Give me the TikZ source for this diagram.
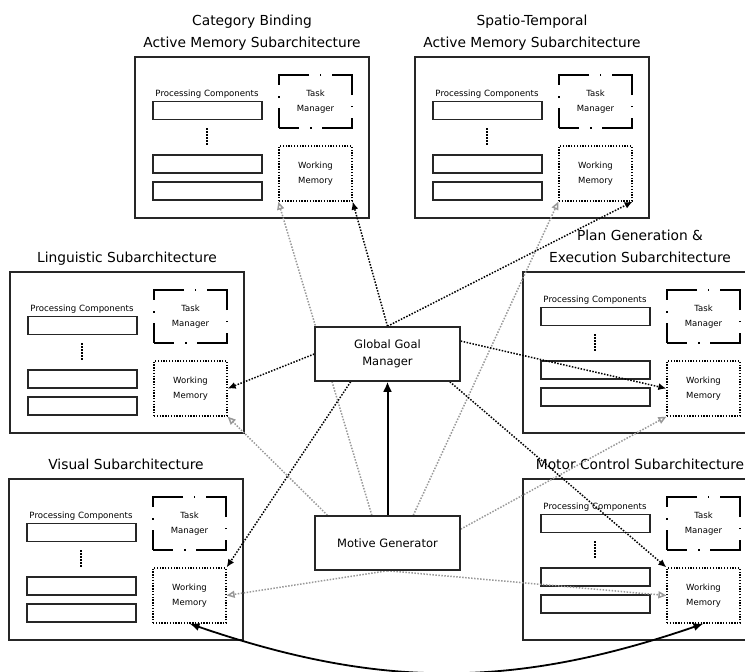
\documentclass[tikz,border=0pt]{standalone}
\usepackage{fontspec}
\setmainfont{DejaVu Sans}
\usetikzlibrary{arrows.meta,calc}
\pgfdeclarelayer{fg}
\pgfsetlayers{main,fg}

\tikzset{
  outer/.style={draw=black!85, line width=1.5pt, rectangle, inner sep=0pt,
    minimum width=234pt, minimum height=161pt},
  titletext/.style={anchor=south, inner sep=0pt, align=center,
    font=\fontsize{13.8}{22}\selectfont},
  pclabel/.style={anchor=base, inner sep=0pt, font=\fontsize{8.6}{10}\selectfont},
  pcbox/.style={draw=black!85, line width=1.5pt, minimum width=109pt,
    minimum height=18pt, inner sep=0pt},
  tmbox/.style={draw=black, line width=1.5pt,
    dash pattern=on 40pt off 11pt on 1.5pt off 10.5pt, dash phase=20pt,
    minimum width=73pt, minimum height=53pt, inner sep=0pt, align=center,
    font=\fontsize{8.5}{15}\selectfont},
  wmbox/.style={draw=black, line width=1.3pt, dash pattern=on 1.3pt off 1.5pt,
    minimum width=73pt, minimum height=55pt, inner sep=0pt, align=center,
    font=\fontsize{8.5}{15}\selectfont},
  dotcol/.style={draw=black, line width=1.5pt, dash pattern=on 1.5pt off 1.5pt},
  mainbox/.style={draw=black!85, line width=1.5pt, fill=white,
    minimum width=145pt, minimum height=54pt, inner sep=0pt, align=center,
    font=\fontsize{11.5}{17}\selectfont},
  blk/.style={draw=black, line width=1.5pt, dash pattern=on 1.5pt off 1.5pt,
    -{Latex[length=8pt,width=7pt]}},
  gry/.style={draw=black!40, line width=1.5pt, dash pattern=on 1.5pt off 1.5pt,
    -{Triangle[open,length=8pt,width=7pt]}},
  bigarrow/.style={draw=black, line width=2pt, -{Latex[length=10pt,width=9pt]}},
  curvearrow/.style={draw=black, line width=1.8pt,
    {Latex[length=10pt,width=8pt]}-{Latex[length=10pt,width=8pt]}}
}

\newcommand{\subarch}[5]{%
  \begin{scope}[shift={(#2,#3)}]
    \node[outer] (#1-box) at (117,80.5) {};
    \node[titletext] (#1-title) at (117,-2.4) {#5\strut};
    \begin{scope}[shift={(0,#4)}]
      \node[pclabel] (#1-pcl) at (72,39) {Processing Components};
      \node[pcbox] (#1-p1) at (72.5,53.5) {};
      \node[pcbox] (#1-p2) at (72.5,107) {};
      \node[pcbox] (#1-p3) at (72.5,134) {};
      \coordinate (#1-d1) at (72,71);
      \coordinate (#1-d2) at (72,88);
      \draw[dotcol] (#1-d1) -- (#1-d2);
    \end{scope}
    \node[tmbox] (#1-tm) at (180.5,44.5) {Task\\Manager};
    \node[wmbox] (#1-wm) at (180.5,116.5) {Working\\Memory};
  \end{scope}}

\begin{document}
\begin{tikzpicture}[x=1pt,y=-1pt]
\useasboundingbox (0,0) rectangle (745,672);
\clip (0,0) rectangle (745,672);

\begin{pgfonlayer}{fg}
  \node[mainbox] (ggm) at (387.5,354) {Global Goal\\Manager};
  \node[mainbox] (mg) at (387.5,543) {Motive Generator};
\end{pgfonlayer}

\subarch{cb}{135}{57}{0}{Category Binding\\Active Memory Subarchitecture}
\subarch{st}{415}{57}{0}{Spatio-Temporal\\Active Memory Subarchitecture}
\subarch{li}{10}{272}{0}{Linguistic Subarchitecture}
\subarch{pg}{523}{272}{-9}{Plan Generation \&\\Execution Subarchitecture}
\subarch{vi}{9}{479}{0}{Visual Subarchitecture}
\subarch{mc}{523}{479}{-9}{Motor Control Subarchitecture}

% gray connectors from the Motive Generator
\coordinate (mga) at ($(mg.north west)!0.09!(mg.north east)$);
\coordinate (mgb) at ($(mg.north west)!0.393!(mg.north east)$);
\coordinate (mgc) at ($(mg.north west)!0.676!(mg.north east)$);
\coordinate (mgd) at ($(mg.north east)!0.25!(mg.south east)$);
\draw[gry] (mga) -- (li-wm.south east);
\draw[gry] (mgb) -- (cb-wm.south west);
\draw[gry] (mgc) -- (st-wm.south west);
\draw[gry] (mgd) -- (pg-wm.south west);
\draw[gry] (mg.south) -- (vi-wm.east);
\draw[gry] (mg.south) -- (mc-wm.west);

% black dotted connectors from the Global Goal Manager
\draw[blk] (ggm.north) -- (cb-wm.south east);
\draw[blk] (ggm.north) -- (st-wm.south east);
\draw[blk] (ggm.west) -- (li-wm.east);
\draw[blk] (ggm.10) -- (pg-wm.west);
\draw[blk] (ggm.217) -- (vi-wm.north east);
\draw[blk] (ggm.336) -- (mc-wm.north west);

% solid arrows
\draw[bigarrow] (mg.north) -- (ggm.south);
\draw[curvearrow] (vi-wm.south) to[bend right=19] (mc-wm.south);
\end{tikzpicture}
\end{document}
